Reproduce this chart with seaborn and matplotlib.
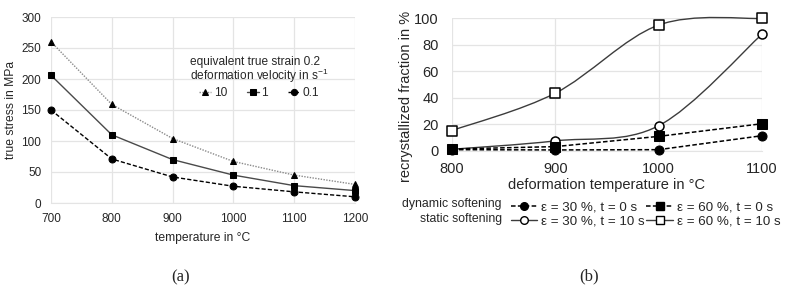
import matplotlib
matplotlib.use("Agg")
import matplotlib.pyplot as plt
import seaborn as sns
from matplotlib.path import Path
from matplotlib.patches import PathPatch
from matplotlib.lines import Line2D

# (a) true stress vs temperature
temp_a = [700, 800, 900, 1000, 1100, 1200]
stress_10 = [260, 159, 104, 67, 45, 30]
stress_1 = [206, 110, 70, 45, 28, 20]
stress_01 = [150, 71, 42, 27, 18, 10]

# (b) recrystallized fraction vs deformation temperature
temp_b = [800, 900, 1000, 1100]
dyn_30 = [1, 0.8, 1, 11.5]
dyn_60 = [1.5, 3.3, 11, 20.5]
stat_30 = [1.3, 7.6, 19, 87.8]
stat_60 = [15.4, 43.5, 94.7, 99.7]

sns.set_style("white")
plt.rcParams['font.family'] = ['Liberation Sans', 'DejaVu Sans']
plt.rcParams['mathtext.fontset'] = 'custom'
plt.rcParams['mathtext.rm'] = 'Liberation Sans'
plt.rcParams['text.color'] = '#262626'
plt.rcParams['axes.labelcolor'] = '#262626'
plt.rcParams['xtick.color'] = '#262626'
plt.rcParams['ytick.color'] = '#262626'

GRID = '#e4e4e4'
DASH = (0, (3, 1.5))


def smooth_path(xs, ys):
    # Excel style smoothed line: cubic bezier through the points
    n = len(xs)
    verts = [(xs[0], ys[0])]
    codes = [Path.MOVETO]
    for i in range(n - 1):
        x0, y0 = (xs[i - 1], ys[i - 1]) if i > 0 else (xs[i], ys[i])
        x3, y3 = (xs[i + 2], ys[i + 2]) if i + 2 < n else (xs[i + 1], ys[i + 1])
        c1 = (xs[i] + (xs[i + 1] - x0) / 6, ys[i] + (ys[i + 1] - y0) / 6)
        c2 = (xs[i + 1] - (x3 - xs[i]) / 6, ys[i + 1] - (y3 - ys[i]) / 6)
        verts += [c1, c2, (xs[i + 1], ys[i + 1])]
        codes += [Path.CURVE4] * 3
    return Path(verts, codes)


def style_axes(ax):
    sns.despine(ax=ax, left=True, top=True, right=True, bottom=False)
    ax.spines['bottom'].set_color(GRID)
    ax.grid(True, color=GRID, linewidth=0.9)
    ax.set_axisbelow(True)
    ax.tick_params(length=0)


fig = plt.figure(figsize=(7.88, 2.94), dpi=100)

# ---------- (a) ----------
ax = fig.add_axes([51 / 788, 91 / 294, 304 / 788, 186 / 294])
sns.lineplot(x=temp_a, y=stress_10, ax=ax, color='#8a8a8a', linestyle=(0, (1, 1)),
             linewidth=1, marker='^', markersize=5, markerfacecolor='black',
             markeredgecolor='black', label='10')
sns.lineplot(x=temp_a, y=stress_1, ax=ax, color='#4a4a4a', linestyle='-',
             linewidth=1, marker='s', markersize=5, markerfacecolor='black',
             markeredgecolor='black', label='1')
sns.lineplot(x=temp_a, y=stress_01, ax=ax, color='black', linestyle=DASH,
             linewidth=1, marker='o', markersize=5, markerfacecolor='black',
             markeredgecolor='black', label='0.1')
ax.set_xlim(700, 1200)
ax.set_ylim(0, 300)
ax.set_xticks(temp_a)
ax.set_yticks([0, 50, 100, 150, 200, 250, 300])
for ln in ax.lines:
    ln.set_clip_on(False)
style_axes(ax)
ax.tick_params(labelsize=8.5, pad=7)
ax.set_xlabel('temperature in °C', fontsize=8.7, labelpad=5)
ax.set_ylabel('true stress in MPa', fontsize=8.7, labelpad=3)
leg = ax.legend(title='equivalent true strain 0.2\ndeformation velocity in s$^{-1}$',
                ncol=3, frameon=False, fontsize=8.6, title_fontsize=8.6,
                loc='upper left', bbox_to_anchor=(184 / 788, 1 - 50 / 294),
                bbox_transform=fig.transFigure, borderpad=0, handlelength=1.0,
                handletextpad=0.2, columnspacing=1.7, alignment='center',
                markerscale=0.9)
leg.get_title().set_linespacing(0.88)
leg.get_title().set_multialignment('left')
leg._legend_box.sep = 2

fig.text(181 / 788, 1 - 277 / 294, '(a)', ha='center', va='center',
         fontsize=12, family='Liberation Serif')

# ---------- (b) ----------
bx = fig.add_axes([452 / 788, 143 / 294, 310 / 788, 133 / 294])
for ys, mk in [(stat_30, 'o'), (stat_60, 's')]:
    bx.add_patch(PathPatch(smooth_path(temp_b, ys), facecolor='none',
                           edgecolor='#3c3c3c', linewidth=1, zorder=2,
                           clip_on=False))
    sns.scatterplot(x=temp_b, y=ys, ax=bx, marker=mk, s=42, color='white',
                    edgecolor='black', linewidth=1.1, zorder=3, clip_on=False)
sns.lineplot(x=temp_b, y=dyn_30, ax=bx, color='black', linestyle=DASH,
             linewidth=1.1, marker='o', markersize=6.5, markerfacecolor='black',
             markeredgecolor='black', zorder=4, clip_on=False)
sns.lineplot(x=temp_b, y=dyn_60, ax=bx, color='black', linestyle=DASH,
             linewidth=1.1, marker='s', markersize=6.5, markerfacecolor='black',
             markeredgecolor='black', zorder=4, clip_on=False)
bx.set_xlim(800, 1100)
bx.set_ylim(0, 100)
bx.set_xticks(temp_b)
bx.set_yticks([0, 20, 40, 60, 80, 100])
style_axes(bx)
bx.tick_params(labelsize=10.5, pad=8)
bx.tick_params(axis='y', pad=9.5)
bx.set_xlabel('deformation temperature in °C', fontsize=10.5, labelpad=1)
bx.set_ylabel('recrystallized fraction in %', fontsize=10.5)
bx.yaxis.set_label_coords(413 / 788, 1 - 96 / 294, transform=fig.transFigure)

handles = [
    Line2D([], [], color='black', ls=DASH, lw=1.1, marker='o', ms=5.5,
           mfc='black', mec='black'),
    Line2D([], [], color='#3c3c3c', ls='-', lw=1, marker='o', ms=5.5,
           mfc='white', mec='black'),
    Line2D([], [], color='black', ls=DASH, lw=1.1, marker='s', ms=5.5,
           mfc='black', mec='black'),
    Line2D([], [], color='#3c3c3c', ls='-', lw=1, marker='s', ms=5.5,
           mfc='white', mec='black'),
]
labels = ['ε = 30 %, t = 0 s', 'ε = 30 %, t = 10 s',
          'ε = 60 %, t = 0 s', 'ε = 60 %, t = 10 s']
fig.legend(handles, labels, ncol=2, frameon=False, fontsize=9.6,
           loc='upper left', bbox_to_anchor=(504 / 788, 1 - 195 / 294),
           borderpad=0, handlelength=2.0, handletextpad=0.3,
           columnspacing=0.1, labelspacing=0.1)
fig.text(502 / 788, 1 - 204 / 294, 'dynamic softening', ha='right',
         va='center', fontsize=8.8)
fig.text(502 / 788, 1 - 219 / 294, 'static softening', ha='right',
         va='center', fontsize=8.8)

fig.text(589 / 788, 1 - 276 / 294, '(b)', ha='center', va='center',
         fontsize=12, family='Liberation Serif')

fig.savefig('out.png', dpi=100)
